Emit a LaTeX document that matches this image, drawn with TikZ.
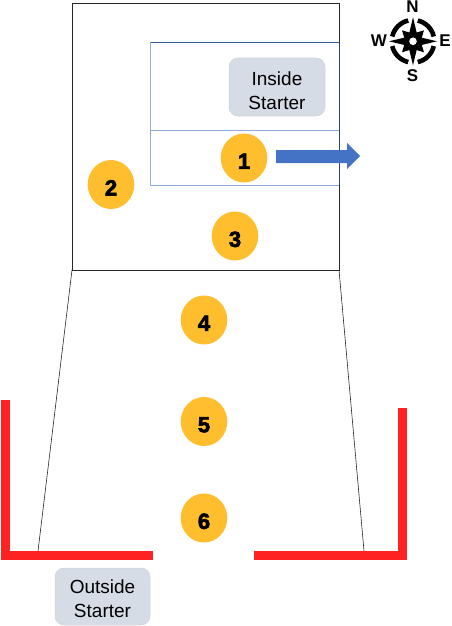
\documentclass[tikz,border=0pt]{standalone}
\usepackage{fontspec}
\setmainfont{Liberation Sans}
\newfontfamily\heavyfont[FakeBold=3]{Liberation Sans Bold}
\usetikzlibrary{shapes.geometric}
\definecolor{gold}{HTML}{FFBE2E}
\definecolor{starter}{HTML}{D6DCE5}
\definecolor{redw}{HTML}{FF2222}
\definecolor{bluef}{HTML}{4472C4}
\definecolor{blueb}{HTML}{8FAADC}
\newcommand{\numtext}[1]{\raisebox{-3.3pt}[\height][\depth]{#1}}
\newcommand{\twolines}[3]{\raisebox{-#3}[\height][\depth]{\begin{tabular}{@{}c@{}}#1\\#2\end{tabular}}}
\tikzset{
  num/.style={ellipse,fill=gold,minimum width=46.6pt,minimum height=49pt,inner sep=0pt,font=\fontsize{22}{22}\selectfont\heavyfont},
  startbox/.style={rectangle,rounded corners=9pt,fill=starter,draw=starter!90!gray,line width=.5pt,align=center,inner sep=0pt,font=\fontsize{19}{24}\selectfont},
  dir/.style={inner sep=0pt,font=\fontsize{17}{17}\selectfont\bfseries},
  outline/.style={draw=black!85,line width=.7pt},
  wall/.style={draw=redw,line width=9pt,miter limit=10}
}
\begin{document}
\begin{tikzpicture}[x=1pt,y=-1pt]
\useasboundingbox (0,0) rectangle (451,626);
% walls and field outline
\draw[outline] (72,3) rectangle (339,270);
\draw[outline,line width=.6pt] (72,270) -- (38,551);
\draw[outline,line width=.6pt] (339,270) -- (364,551);
\draw[draw=bluef!80!black,line width=.8pt] (150,42) -- (339,42);
\draw[draw=blueb,line width=.9pt] (150,42) -- (150,185) -- (339,185);
\draw[draw=blueb,line width=.9pt] (150,130) -- (339,130);
\draw[draw=bluef!60!black,line width=.7pt] (339,42) -- (339,185);
\draw[wall] (5,400) -- (5,555.5) -- (153,555.5);
\draw[wall] (254,555.5) -- (402.5,555.5) -- (402.5,408);
% arrow
\fill[bluef] (276,150) -- (347,150) -- (347,143) -- (360,156) -- (347,169) -- (347,163) -- (276,163) -- cycle;
% numbered markers
\node[num] (n1) at (244,158) {\numtext{1}};
\node[num] (n2) at (111,184.5) {\numtext{2}};
\node[num] (n3) at (235,236) {\numtext{3}};
\node[num] (n4) at (204,320) {\numtext{4}};
\node[num] (n5) at (204,421.5) {\numtext{5}};
\node[num] (n6) at (204,518) {\numtext{6}};
% starters
\node[startbox,minimum width=96pt,minimum height=58pt] (inside) at (277,87) {\twolines{Inside}{Starter}{5.5pt}};
\node[startbox,minimum width=95pt,minimum height=57pt] (outside) at (102.5,596.5) {\twolines{Outside}{Starter}{4.5pt}};
% compass
\coordinate (c) at (413,41.3);
\foreach \a in {0,90,180,270}
  \draw[line width=4.6pt,black] ([shift={(\a+13:21.3)}]c) arc[start angle=\a+13,end angle=\a+77,radius=21.3];
\filldraw[fill=black,draw=white,line width=1.6pt,miter limit=1] ([shift={(0:24)}]c) -- ([shift={(22.5:9.5)}]c) -- ([shift={(45:15.5)}]c) -- ([shift={(67.5:9.5)}]c) -- ([shift={(90:24)}]c) -- ([shift={(112.5:9.5)}]c) -- ([shift={(135:15.5)}]c) -- ([shift={(157.5:9.5)}]c) -- ([shift={(180:24)}]c) -- ([shift={(202.5:9.5)}]c) -- ([shift={(225:15.5)}]c) -- ([shift={(247.5:9.5)}]c) -- ([shift={(270:24)}]c) -- ([shift={(292.5:9.5)}]c) -- ([shift={(315:15.5)}]c) -- ([shift={(337.5:9.5)}]c) -- cycle;
\fill[black] ([shift={(0:24)}]c) -- ([shift={(22.5:9.5)}]c) -- ([shift={(45:15.5)}]c) -- ([shift={(67.5:9.5)}]c) -- ([shift={(90:24)}]c) -- ([shift={(112.5:9.5)}]c) -- ([shift={(135:15.5)}]c) -- ([shift={(157.5:9.5)}]c) -- ([shift={(180:24)}]c) -- ([shift={(202.5:9.5)}]c) -- ([shift={(225:15.5)}]c) -- ([shift={(247.5:9.5)}]c) -- ([shift={(270:24)}]c) -- ([shift={(292.5:9.5)}]c) -- ([shift={(315:15.5)}]c) -- ([shift={(337.5:9.5)}]c) -- cycle;
\fill[white] (c) circle (3.8);
\node[dir] (N) at (412.5,7) {N};
\node[dir] (S) at (412.5,76) {S};
\node[dir] (W) at (379,40.5) {W};
\node[dir] (E) at (445,41) {E};
\end{tikzpicture}
\end{document}
